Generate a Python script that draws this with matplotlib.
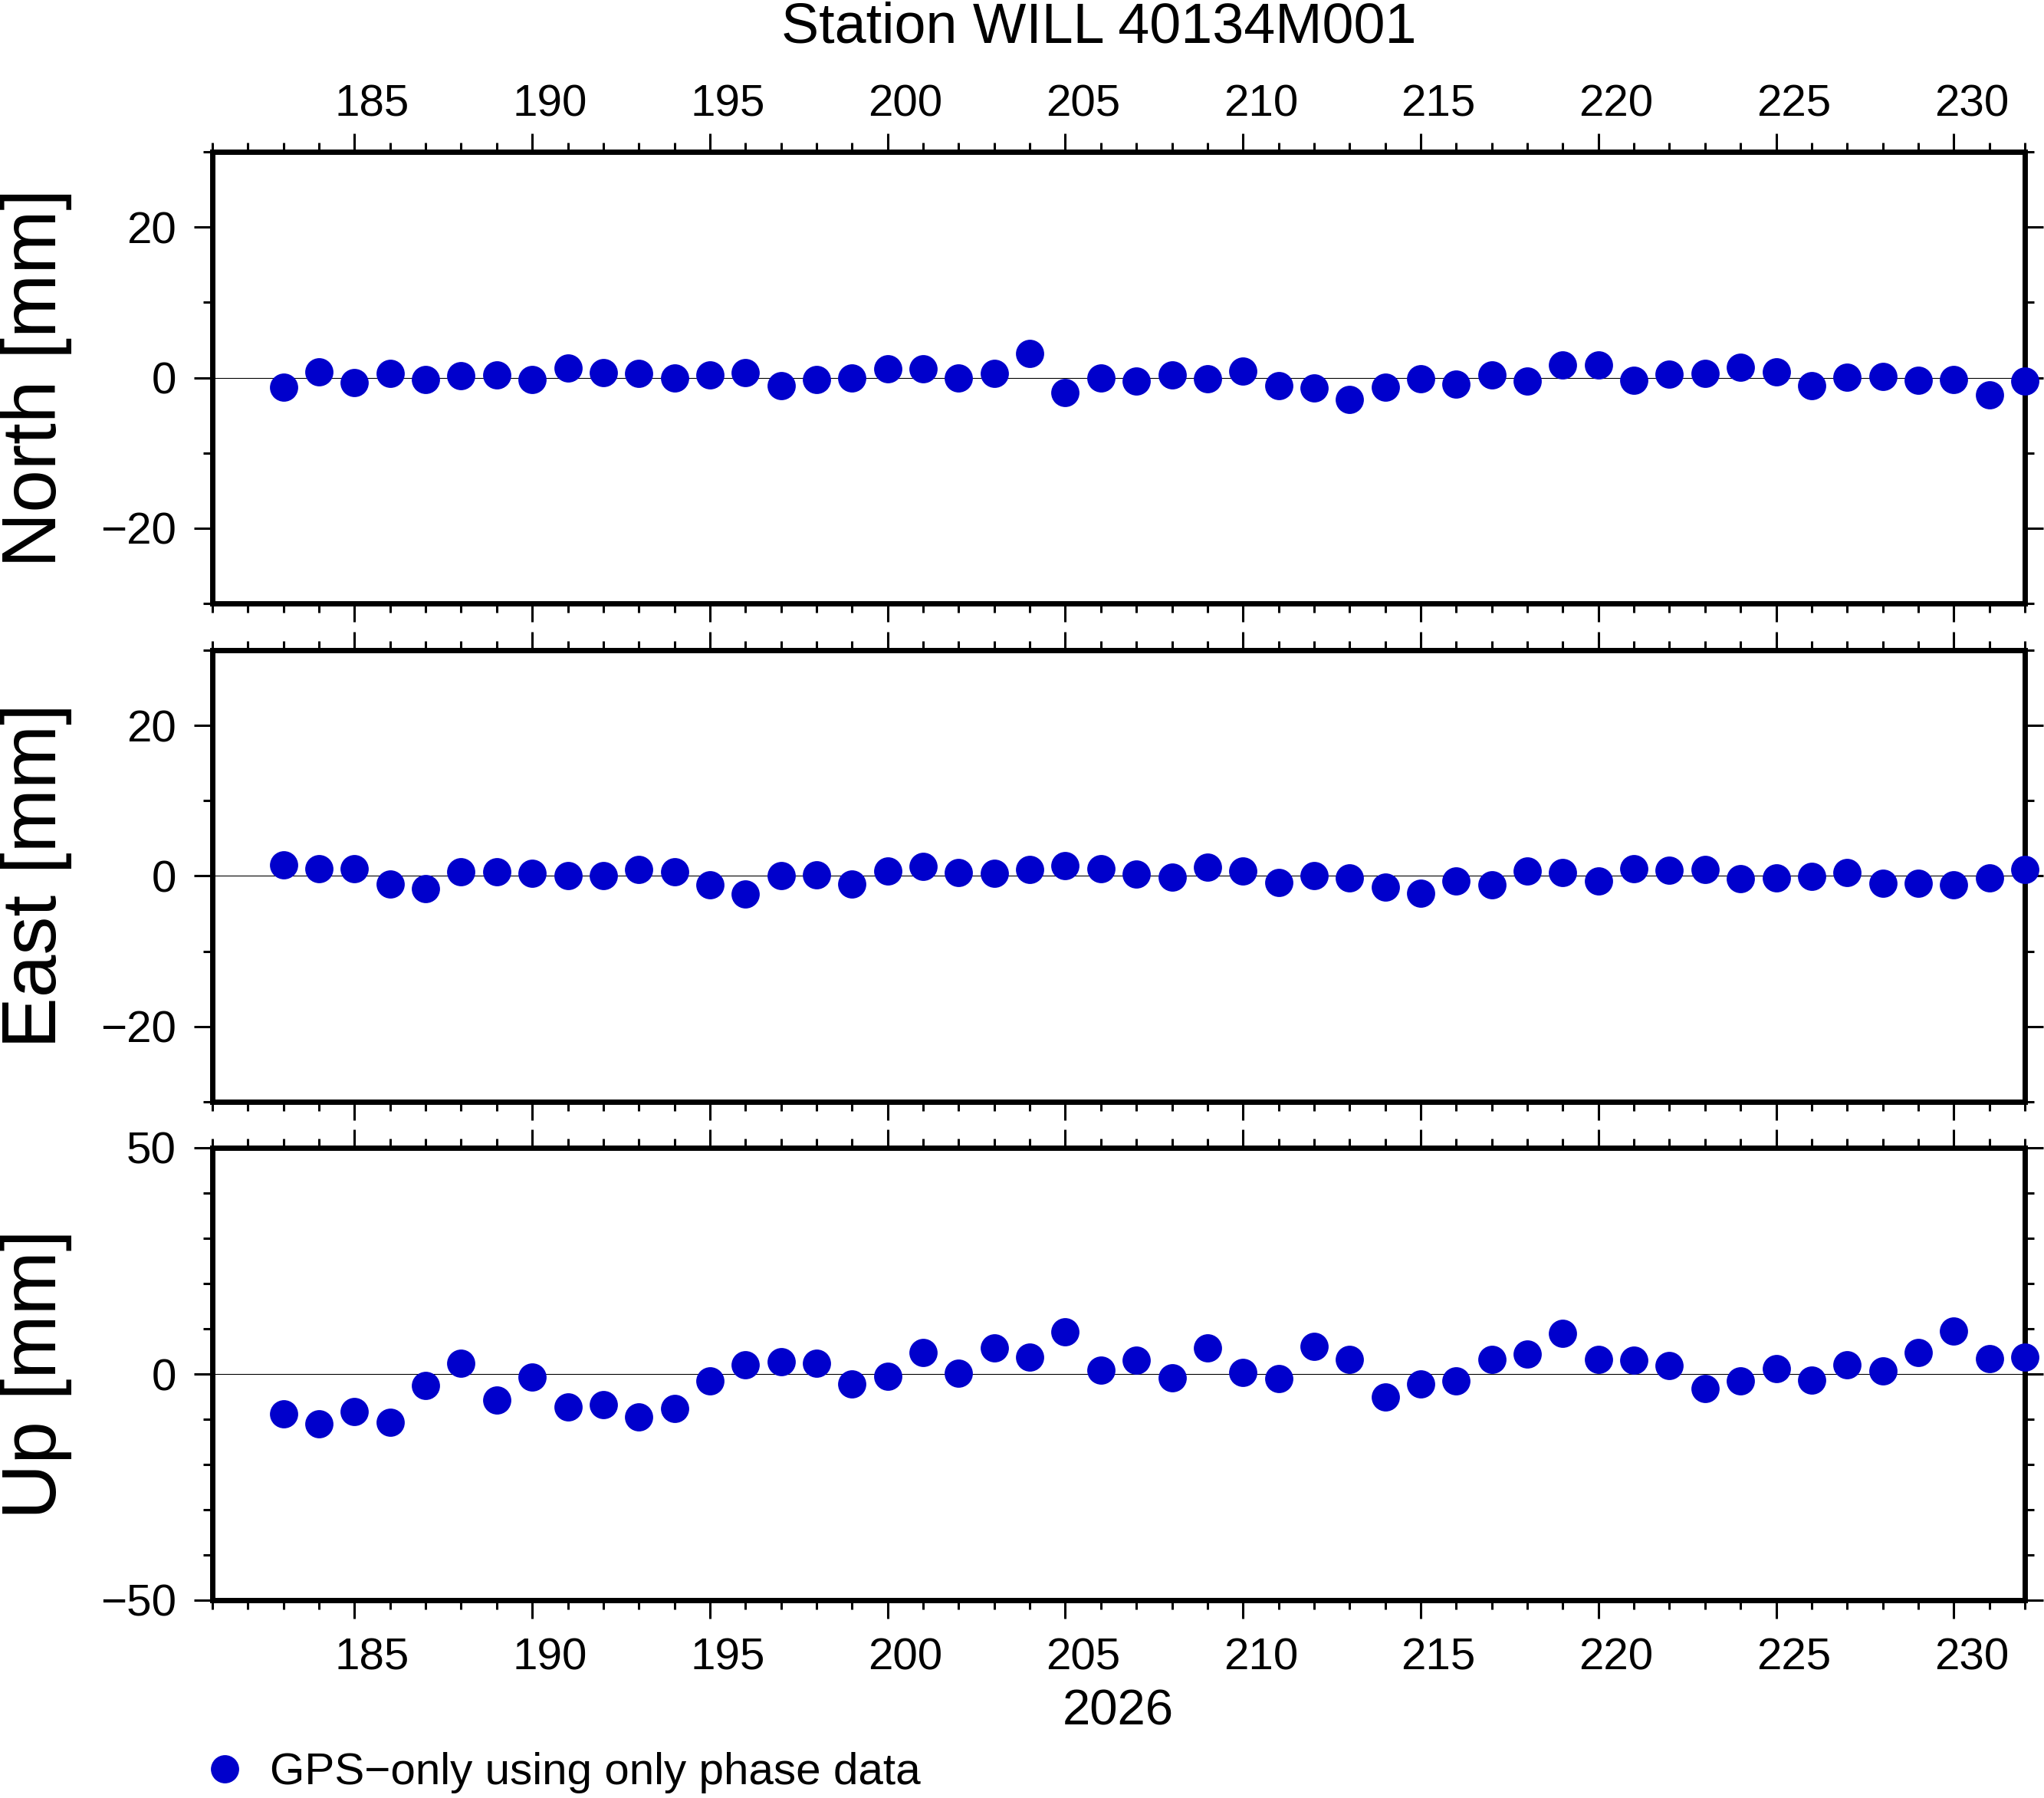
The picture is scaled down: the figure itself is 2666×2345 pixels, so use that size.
import matplotlib
matplotlib.use("Agg")
import matplotlib.pyplot as plt
from matplotlib.ticker import MultipleLocator

plt.rcParams['font.family'] = ['Liberation Sans', 'DejaVu Sans']

# ---- data ----
days = list(range(183, 233))
north = [-1.25, 0.8, -0.7, 0.6, -0.3, 0.3, 0.4, -0.3, 1.3, 0.7, 0.6, 0.0, 0.4, 0.7, -1.1, -0.3,
         0.0, 1.2, 1.2, 0.0, 0.6, 3.25, -2.0, -0.1,
         -0.45, 0.4, -0.2, 0.9, -1.1, -1.4, -2.9, -1.3, -0.2, -0.9, 0.4, -0.5, 1.7, 1.7, -0.4,
         0.5, 0.6, 1.4, 0.8, -1.1, 0.1, 0.2, -0.4, -0.3, -2.25, -0.5]
east = [1.5, 1.0, 1.0, -1.1, -1.65, 0.6, 0.6, 0.4, 0.1, 0.0, 0.9, 0.6, -1.2, -2.4, 0.0, 0.2,
        -1.1, 0.7, 1.3, 0.5, 0.4, 0.9, 1.4, 1.0,
        0.3, -0.2, 1.2, 0.7, -0.9, 0.0, -0.3, -1.5, -2.25, -0.7, -1.2, 0.7, 0.5, -0.7, 1.0,
        0.8, 0.9, -0.4, -0.3, -0.1, 0.5, -1.0, -1.0, -1.2, -0.3, 0.9]
up = [-8.8, -11.0, -8.3, -10.7, -2.6, 2.4, -5.7, -0.7, -7.3, -6.7, -9.5, -7.6, -1.6, 2.0, 2.7,
      2.4, -2.2, -0.5, 4.8, 0.1, 5.8, 3.8, 9.4, 0.9,
      3.1, -0.8, 5.7, 0.3, -1.0, 6.1, 3.2, -5.1, -2.2, -1.5, 3.2, 4.4, 9.0, 3.2, 3.05, 1.85,
      -3.25, -1.6, 1.2, -1.4, 2.0, 0.6, 4.7, 9.5, 3.4, 3.7]

x_major = list(range(185, 231, 5))
panel_labels = ['North [mm]', 'East [mm]', 'Up [mm]']
series = [north, east, up]
ylims = [(-30, 30), (-30, 30), (-50, 50)]
ymajor = [20, 20, 50]
yminor = [10, 10, 10]
title = 'Station WILL 40134M001'
year_label = '2026'
legend_label = 'GPS\u2212only using only phase data'
xlim = (181, 232)

W, H = 2666, 2345
DPI = 100
fig = plt.figure(figsize=(W / DPI, H / DPI), dpi=DPI)

left = 277 / W
width = (2641 - 277) / W
tops = [198, 848, 1497]
bots = [787, 1437, 2087]

TICKFS = 42
blue = '#0000cc'
lines = []
for i in range(3):
    ax = fig.add_axes([left, 1 - bots[i] / H, width, (bots[i] - tops[i]) / H])
    ax.set_xlim(*xlim)
    ax.set_ylim(*ylims[i])
    ax.axhline(0, color='black', lw=0.8, zorder=1)
    ln, = ax.plot(days, series[i], 'o', color=blue, markersize=26.5, markeredgewidth=0,
                  clip_on=False, zorder=4)
    lines.append(ln)
    for s in ax.spines.values():
        s.set_linewidth(5)
    ax.xaxis.set_major_locator(MultipleLocator(5))
    ax.xaxis.set_minor_locator(MultipleLocator(1))
    ax.yaxis.set_major_locator(MultipleLocator(ymajor[i]))
    ax.yaxis.set_minor_locator(MultipleLocator(yminor[i]))
    ax.tick_params(axis='both', which='both', direction='out', top=True, bottom=True,
                   left=True, right=True, width=2.2, color='black')
    ax.tick_params(axis='both', which='major', length=17)
    ax.tick_params(axis='both', which='minor', length=8.6)
    ax.tick_params(axis='x', which='both', labelbottom=False, labeltop=False)
    ax.tick_params(axis='y', which='major', labelsize=TICKFS, pad=17, labelleft=True,
                   labelright=False)
    ax.set_yticks([v for v in ax.get_yticks() if ylims[i][0] <= v <= ylims[i][1]])
    ax.set_ylim(*ylims[i])

    # x-tick annotations centred on the day interval (GMT style)
    if i == 0:
        for d in x_major:
            ax.text(d + 0.5, 1.0788, str(d), transform=ax.get_xaxis_transform(),
                    ha='center', va='baseline', fontsize=TICKFS)
    if i == 2:
        for d in x_major:
            ax.text(d + 0.5, -0.1542, str(d), transform=ax.get_xaxis_transform(),
                    ha='center', va='baseline', fontsize=TICKFS)

    ycen = 1 - (tops[i] + bots[i]) / 2 / H
    fig.text(0.0178, ycen, panel_labels[i], rotation=90, ha='center', va='center',
             fontsize=72)

fig.text(1433 / W, 1 - 56 / H, title, ha='center', va='baseline', fontsize=53)
fig.text(1458 / W, 1 - 2250 / H, year_label, ha='center', va='baseline', fontsize=47)

fig.legend(handles=[lines[0]], labels=[legend_label], loc='center left',
           bbox_to_anchor=(264 / W, 1 - 2312 / H), frameon=False, fontsize=42,
           handlelength=1.0, handletextpad=0.5, borderpad=0, borderaxespad=0,
           markerscale=1.0)

fig.savefig('out.png', dpi=DPI, facecolor='white')
